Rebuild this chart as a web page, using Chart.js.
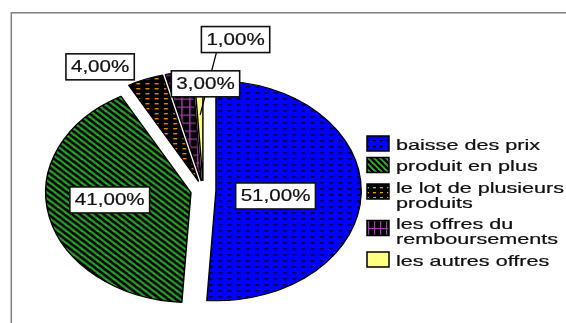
<!DOCTYPE html>
<html>
<head>
<meta charset="utf-8">
<script src="https://cdn.jsdelivr.net/npm/chart.js@4.4.1/dist/chart.umd.min.js"></script>
<style>
  html, body { margin: 0; padding: 0; background: #fff; }
  #wrap { width: 566px; height: 323px; }
</style>
</head>
<body>
<div id="wrap"><canvas id="pie" width="566" height="323"></canvas></div>
<script>
// Categories (legend text, split into the lines shown in the legend)
const categories = [
  'baisse des prix',
  'produit en plus',
  'le lot de plusieurs produits',
  'les offres du remboursements',
  'les autres offres'
];
const legendLines = [
  ['baisse des prix'],
  ['produit en plus'],
  ['le lot de plusieurs', 'produits'],
  ['les offres du', 'remboursements'],
  ['les autres offres']
];
// Share of each offer type, in percent
const shares = [51, 41, 4, 3, 1];

// Presentation settings
const stretchX = 1.32;      // the pie is drawn as an ellipse
const explode = 9.6;        // every slice is pulled out from the centre
const labelScaleX = 1.21;
const legendScaleX = 1.44;
// where each value box sits: distance (fraction of radius) and angular nudge (degrees)
const labelPlacement = [
  { dist: 0.50, turn: 3.9 },
  { dist: 0.65, turn: 5.0 },
  { dist: 1.33, turn: -10.7 },
  { dist: 0.97, turn: 9.9 },
  { dist: 1.39, turn: 11.0, leader: 0.6 }
];

function tile(w, h, bg, paint) {
  const c = document.createElement('canvas');
  c.width = w; c.height = h;
  const g = c.getContext('2d');
  g.fillStyle = bg;
  g.fillRect(0, 0, w, h);
  paint(g);
  return g.createPattern(c, 'repeat');
}

const fills = [
  // blue with small black dashes
  tile(7, 6, '#0000ff', g => { g.fillStyle = '#000'; g.fillRect(2, 2, 3, 1.3); }),
  // black with green diagonal stripes
  tile(6, 6, '#000', g => {
    g.strokeStyle = '#2fb32f'; g.lineWidth = 1.8;
    [-6, 0, 6].forEach(o => { g.beginPath(); g.moveTo(o - 1, -1); g.lineTo(o + 7, 7); g.stroke(); });
  }),
  // black with orange dashes
  tile(7, 5, '#000', g => { g.fillStyle = '#ff9900'; g.fillRect(2, 2, 3, 1.3); }),
  // black with purple crosses
  tile(6, 8, '#000', g => { g.fillStyle = '#a040a8'; g.fillRect(2, 0, 1.2, 8); g.fillRect(0, 4, 6, 1.2); }),
  // plain light yellow
  '#ffff80'
];

const fmt = v => v.toFixed(2).replace('.', ',') + '%';

// text with a hairline outline so it reads a little heavier
function heavyText(ctx, text, x, y, color) {
  ctx.fillStyle = color;
  ctx.strokeStyle = color;
  ctx.lineWidth = 0.22;
  ctx.fillText(text, x, y);
  ctx.strokeText(text, x, y);
}

const frame = {
  id: 'frame',
  beforeDraw(chart) {
    const ctx = chart.ctx;
    ctx.save();
    ctx.fillStyle = '#fff';
    ctx.fillRect(0, 0, chart.width, chart.height);
    ctx.strokeStyle = '#808080';
    ctx.lineWidth = 1.5;
    ctx.strokeRect(11.3, 12.8, 700, 400);
    ctx.restore();
  }
};

const explodedPie = {
  id: 'explodedPie',
  beforeDatasetDraw(chart, args) {
    const ctx = chart.ctx;
    const arcs = args.meta.data;
    if (!arcs.length) return;
    const cx = arcs[0].x, cy = arcs[0].y;
    ctx.save();
    ctx.translate(cx, cy);
    ctx.scale(stretchX, 1);
    ctx.translate(-cx, -cy);
    arcs.forEach(a => {
      const m = (a.startAngle + a.endAngle) / 2;
      ctx.save();
      ctx.translate(Math.cos(m) * explode, Math.sin(m) * explode);
      a.draw(ctx);
      ctx.restore();
    });
    ctx.restore();
    return false;
  }
};

const valueBoxes = {
  id: 'valueBoxes',
  afterDatasetsDraw(chart) {
    const ctx = chart.ctx;
    const arcs = chart.getDatasetMeta(0).data;
    const values = chart.data.datasets[0].data;
    const cx = arcs[0].x, cy = arcs[0].y, R = arcs[0].outerRadius;
    ctx.save();
    ctx.font = '17px "Liberation Sans", Arial, sans-serif';
    const boxes = arcs.map((a, i) => {
      const p = labelPlacement[i];
      const m = (a.startAngle + a.endAngle) / 2 + p.turn * Math.PI / 180;
      const text = fmt(values[i]);
      const w = ctx.measureText(text).width * labelScaleX + 10;
      return {
        text, w, h: 26,
        x: cx + Math.cos(m) * R * p.dist * stretchX,
        y: cy + Math.sin(m) * R * p.dist
      };
    });
    // leader lines go underneath the boxes
    ctx.strokeStyle = '#000';
    ctx.lineWidth = 1.3;
    labelPlacement.forEach((p, i) => {
      if (!p.leader) return;
      const a = arcs[i], b = boxes[i];
      const m = (a.startAngle + a.endAngle) / 2;
      const ex = cx + Math.cos(m) * (R * p.leader + explode) * stretchX;
      const ey = cy + Math.sin(m) * (R * p.leader + explode);
      ctx.beginPath();
      ctx.moveTo(b.x - b.w / 2 + 15, b.y + b.h / 2);
      ctx.lineTo(ex, ey);
      ctx.stroke();
    });
    boxes.forEach(b => {
      ctx.fillStyle = '#fff';
      ctx.fillRect(b.x - b.w / 2, b.y - b.h / 2, b.w, b.h);
      ctx.strokeStyle = '#111';
      ctx.lineWidth = 1.6;
      ctx.strokeRect(b.x - b.w / 2, b.y - b.h / 2, b.w, b.h);
      ctx.save();
      ctx.translate(b.x, b.y);
      ctx.scale(labelScaleX, 1);
      ctx.textAlign = 'center';
      ctx.textBaseline = 'middle';
      heavyText(ctx, b.text, 0, 0.5, '#111');
      ctx.restore();
    });
    ctx.restore();
  }
};

const sideLegend = {
  id: 'sideLegend',
  afterDraw(chart) {
    const ctx = chart.ctx;
    const colors = chart.data.datasets[0].backgroundColor;
    ctx.save();
    ctx.font = '15px "Liberation Sans", Arial, sans-serif';
    ctx.textBaseline = 'alphabetic';
    let y = 149.5;
    legendLines.forEach((lines, i) => {
      const boxY = y - 6 + (lines.length - 1) * 5;
      ctx.fillStyle = colors[i];
      ctx.fillRect(367, boxY - 7.5, 22, 15);
      ctx.strokeStyle = '#000';
      ctx.lineWidth = 1.5;
      ctx.strokeRect(367, boxY - 7.5, 22, 15);
      lines.forEach((t, j) => {
        ctx.save();
        ctx.translate(396, y + j * 15);
        ctx.scale(legendScaleX, 1);
        heavyText(ctx, t, 0, 0, '#111');
        ctx.restore();
      });
      y += (lines.length - 1) * 15 + 21.5;
    });
    ctx.restore();
  }
};

new Chart(document.getElementById('pie'), {
  type: 'pie',
  data: {
    labels: categories,
    datasets: [{
      data: shares,
      backgroundColor: fills,
      borderColor: '#000',
      borderWidth: 1.1
    }]
  },
  options: {
    responsive: false,
    devicePixelRatio: 1,
    animation: false,
    radius: 110,
    layout: { padding: { left: 0, right: 159.4, top: 80, bottom: 22 } },
    plugins: {
      legend: { display: false },
      tooltip: { enabled: false }
    }
  },
  plugins: [frame, explodedPie, valueBoxes, sideLegend]
});
</script>
</body>
</html>
